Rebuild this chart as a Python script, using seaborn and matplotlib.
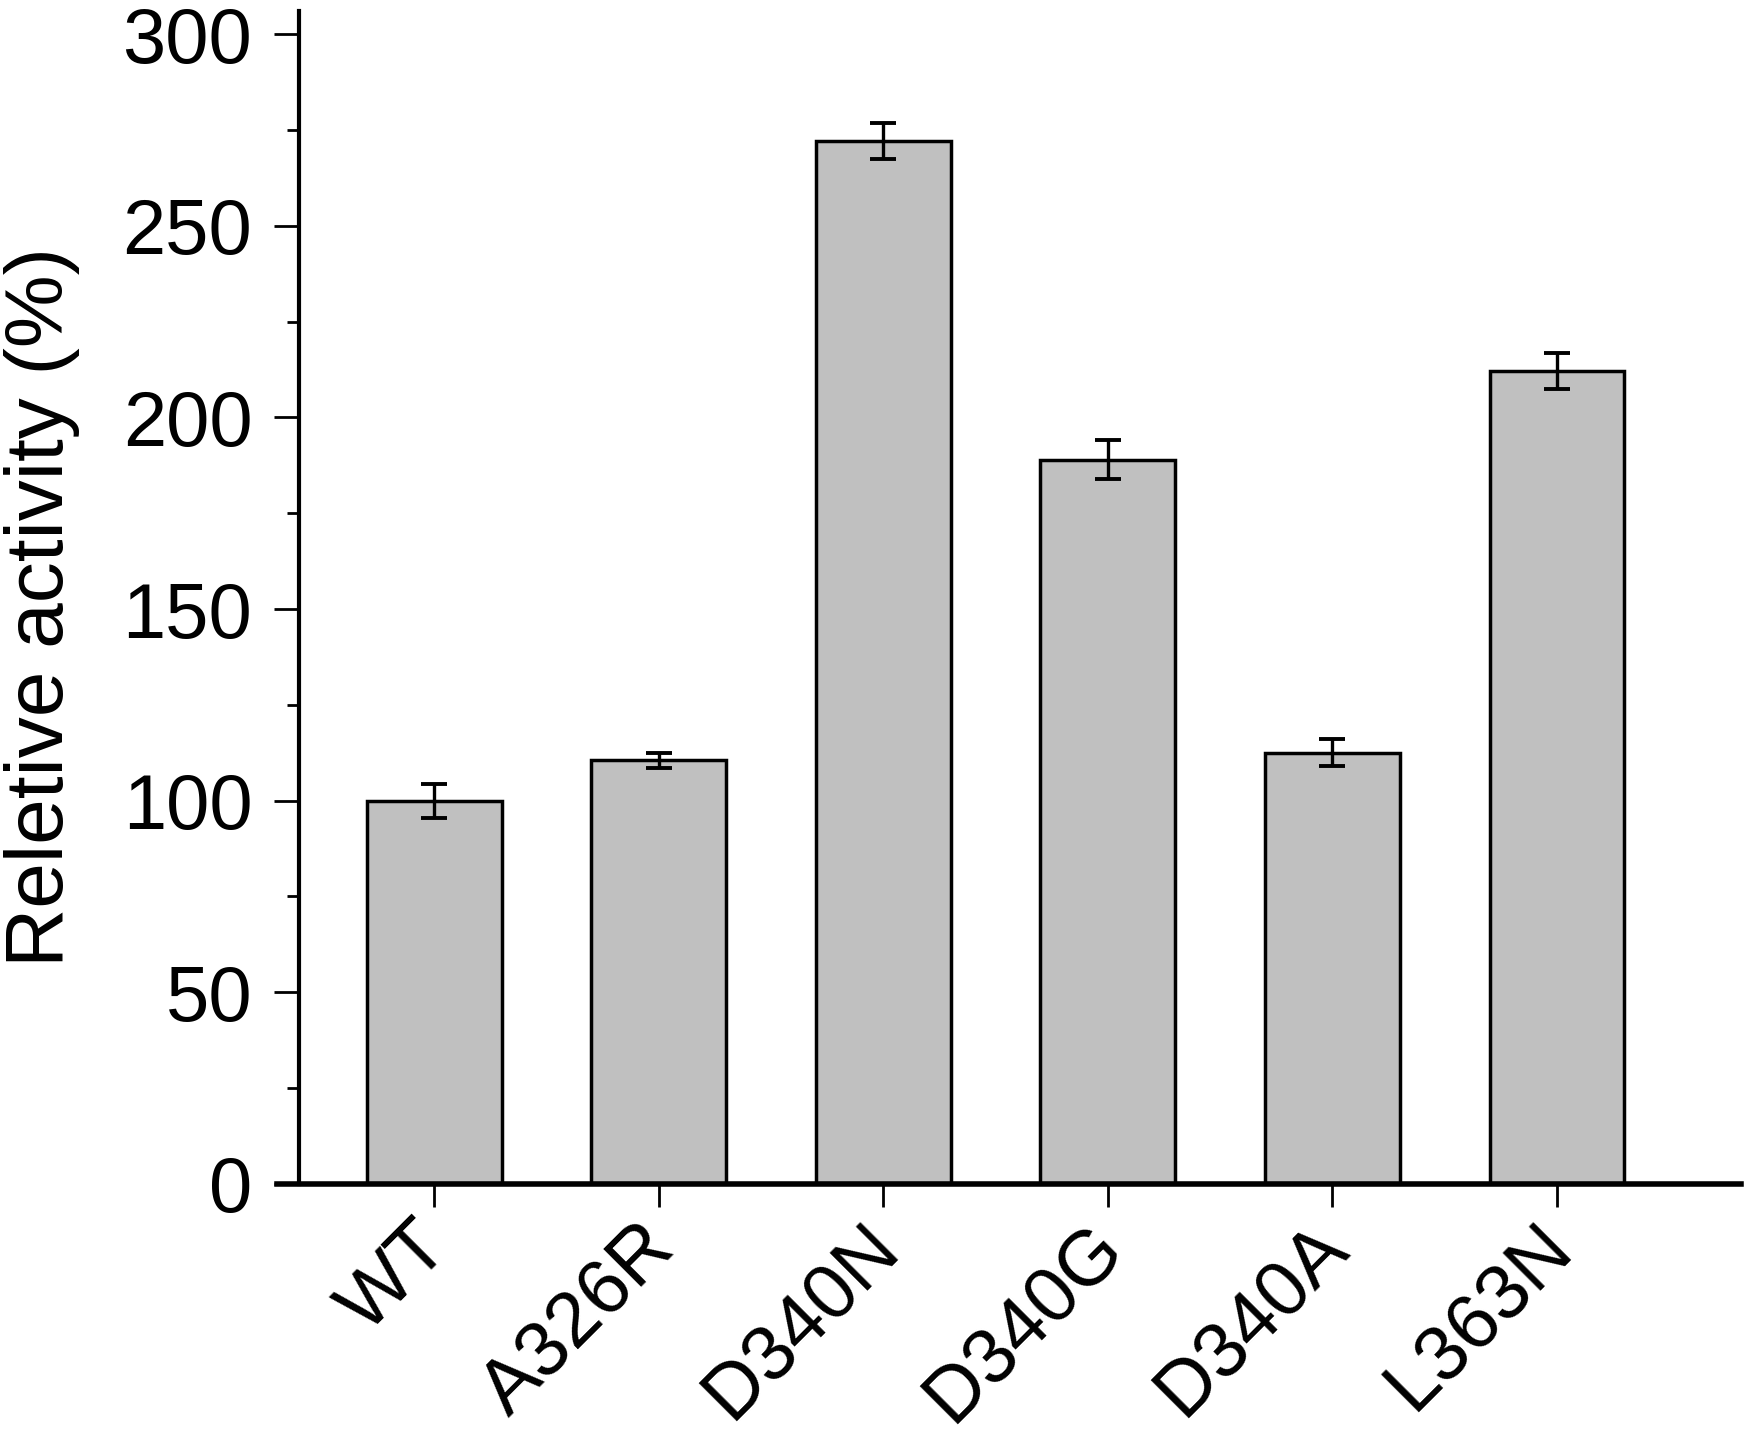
import numpy as np
import pandas as pd
import matplotlib
matplotlib.use('Agg')
import matplotlib.pyplot as plt
from matplotlib.ticker import MultipleLocator
from matplotlib.transforms import ScaledTranslation
import seaborn as sns

# Values
mutants = ['WT', 'A326R', 'D340N', 'D340G', 'D340A', 'L363N']
activity = [100, 110.5, 272, 189, 112.5, 212]
activity_sd = [4.4, 2.0, 4.7, 5.2, 3.5, 4.7]

sns.set_style('ticks')
plt.rcParams['font.family'] = ['Liberation Sans', 'DejaVu Sans']
plt.rcParams['text.color'] = 'black'
plt.rcParams['axes.labelcolor'] = 'black'
plt.rcParams['xtick.color'] = 'black'
plt.rcParams['ytick.color'] = 'black'

df = pd.DataFrame({'Mutant': mutants, 'Activity': activity})

fig = plt.figure(figsize = (17.5, 14.32), dpi = 100)
ax = fig.add_axes([0.1583, 0.1732, 0.8366, 0.8191])

# Bars
sns.barplot(data = df, x = 'Mutant', y = 'Activity', color = '#C0C0C0', saturation = 1,
            edgecolor = 'black', linewidth = 2.5, width = 0.6, errorbar = None, ax = ax)

# Error bars (SD)
ax.errorbar(np.arange(len(mutants)), activity, yerr = activity_sd, fmt = 'none',
            ecolor = 'black', elinewidth = 2.4, capsize = 9.5, capthick = 2.8, zorder = 5)

# Axis styling
ax.set_xlim(-0.70, 5.82)
ax.set_ylim(0, 306)
ax.spines['top'].set_visible(False)
ax.spines['right'].set_visible(False)
ax.spines['left'].set_position(('data', -0.6))
ax.spines['left'].set_linewidth(3)
ax.spines['bottom'].set_linewidth(4)
ax.spines['left'].set_color('black')
ax.spines['bottom'].set_color('black')

ax.yaxis.set_major_locator(MultipleLocator(50))
ax.yaxis.set_minor_locator(MultipleLocator(25))
ax.tick_params(axis = 'y', which = 'major', length = 18, width = 2, pad = 16, labelsize = 56)
ax.tick_params(axis = 'y', which = 'minor', length = 9, width = 2)
ax.tick_params(axis = 'x', which = 'major', length = 16.5, width = 2, pad = 2, labelsize = 56)

# Rotated category labels
offset = ScaledTranslation(-0.22, 0, fig.dpi_scale_trans)
for label in ax.get_xticklabels():
    label.set_rotation(45)
    label.set_rotation_mode('anchor')
    label.set_ha('right')
    label.set_va('top')
    label.set_transform(label.get_transform() + offset)

ax.set_xlabel('')
ax.set_ylabel('Reletive activity (%)', fontsize = 59)
ax.yaxis.set_label_coords(-0.1346, 0.492)

fig.savefig('out.png', dpi = 100)
